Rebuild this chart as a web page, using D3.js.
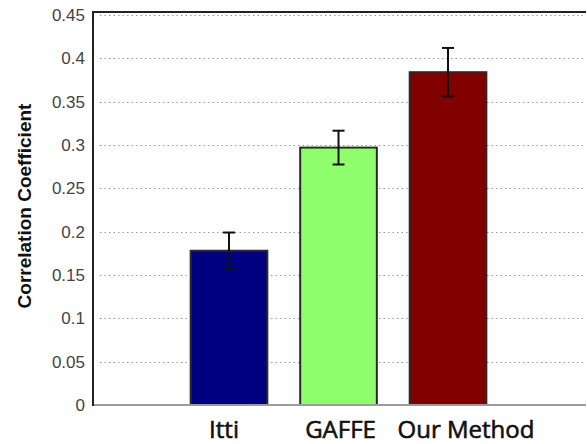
<!DOCTYPE html>
<html>
<head>
<meta charset="utf-8">
<script src="https://cdn.jsdelivr.net/npm/d3@7"></script>
<style>
  html, body { margin: 0; padding: 0; background: #fff; }
  svg { display: block; }
</style>
</head>
<body>
<svg id="chart" width="587" height="444"></svg>
<script>
// ---- data ----
const categories = ["Itti", "GAFFE", "Our Method"];
const values = [0.178, 0.297, 0.384];
const errors = [0.021, 0.0195, 0.028];
const barColors = ["#000080", "#90FF6E", "#800000"];
const yTicks = [0, 0.05, 0.1, 0.15, 0.2, 0.25, 0.3, 0.35, 0.4, 0.45];
const yTickLabels = ["0", "0.05", "0.1", "0.15", "0.2", "0.25", "0.3", "0.35", "0.4", "0.45"];
const yTitle = "Correlation Coefficient";

(function () {
// ---- layout ----
const mLeft = 93, mRight = 586, mTop = 12, mBottom = 405;
const svg = d3.select("#chart");

const x = d3.scaleLinear().domain([-0.242, 4.26]).range([mLeft, mRight]);
const y = d3.scaleLinear().domain([0, 0.45]).range([mBottom, 15]);
const barW = x(0.7) - x(0);

// gridlines
svg.append("g").selectAll("line").data(yTicks.filter(t => t > 0)).join("line")
  .attr("x1", mLeft + 7).attr("x2", mRight)
  .attr("y1", d => Math.round(y(d)) + 0.5).attr("y2", d => Math.round(y(d)) + 0.5)
  .attr("stroke", "#9a9a9a").attr("stroke-width", 1)
  .attr("stroke-dasharray", "1.5,3");

// bars
const idx = categories.map((c, i) => i + 1);
svg.append("g").selectAll("rect").data(idx).join("rect")
  .attr("x", i => x(i) - barW / 2)
  .attr("y", i => y(values[i - 1]))
  .attr("width", barW)
  .attr("height", i => y(0) - y(values[i - 1]))
  .attr("fill", i => barColors[i - 1])
  .attr("stroke", "#2a2a2a").attr("stroke-width", 2);

// error bars
const eb = svg.append("g").attr("stroke", "#111").attr("stroke-width", 2);
idx.forEach(i => {
  const v = values[i - 1], e = errors[i - 1], cx = x(i);
  eb.append("line").attr("x1", cx).attr("x2", cx).attr("y1", y(v + e)).attr("y2", y(v - e));
  eb.append("line").attr("x1", cx - 6).attr("x2", cx + 6).attr("y1", y(v + e)).attr("y2", y(v + e));
  eb.append("line").attr("x1", cx - 6).attr("x2", cx + 6).attr("y1", y(v - e)).attr("y2", y(v - e));
});

// axes frame
svg.append("line").attr("x1", mLeft).attr("x2", mRight).attr("y1", mBottom).attr("y2", mBottom)
  .attr("stroke", "#9c9c9c").attr("stroke-width", 2);
svg.append("line").attr("x1", mLeft).attr("x2", mRight).attr("y1", mTop).attr("y2", mTop)
  .attr("stroke", "#222").attr("stroke-width", 2);
svg.append("line").attr("x1", mLeft).attr("x2", mLeft).attr("y1", mTop - 1).attr("y2", mBottom + 1)
  .attr("stroke", "#222").attr("stroke-width", 2);

// y tick labels
const yAxis = d3.axisLeft(y).tickValues(yTicks).tickSize(0).tickPadding(8)
  .tickFormat((d, i) => yTickLabels[i]);
const ya = svg.append("g").attr("transform", `translate(${mLeft},0)`).call(yAxis);
ya.select(".domain").remove();
ya.selectAll("text").attr("font-family", "Liberation Sans, Arial, sans-serif")
  .attr("font-size", 17).attr("fill", "#444");

// y title
svg.append("text")
  .attr("transform", `translate(31,206) rotate(-90)`)
  .attr("text-anchor", "middle")
  .attr("font-family", "Liberation Sans, Arial, sans-serif")
  .attr("font-weight", "bold").attr("font-size", 19).attr("fill", "#111")
  .text(yTitle);

// category labels
const labelDx = [-5, 2, 18];
svg.append("g").selectAll("text").data(idx).join("text")
  .attr("x", i => x(i) + labelDx[i - 1])
  .attr("y", 438)
  .attr("text-anchor", "middle")
  .attr("font-family", "Open Sans, sans-serif")
  .attr("font-size", 24).attr("fill", "#111")
  .attr("stroke", "#111").attr("stroke-width", 0.6)
  .text(i => categories[i - 1]);
})();
</script>
</body>
</html>
